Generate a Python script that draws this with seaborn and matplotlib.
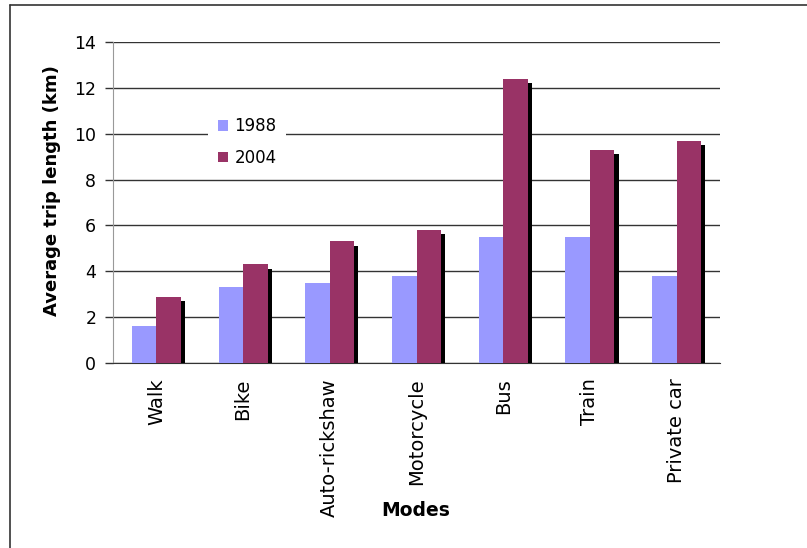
import pandas as pd
import numpy as np
import seaborn as sns
import matplotlib.pyplot as plt
import matplotlib.patheffects as pe
from matplotlib.lines import Line2D

# Données
modes = ['Walk', 'Bike', 'Auto-rickshaw', 'Motorcycle', 'Bus', 'Train', 'Private car']
trip_1988 = [1.6, 3.3, 3.5, 3.8, 5.5, 5.5, 3.8]
trip_2004 = [2.9, 4.3, 5.3, 5.8, 12.4, 9.3, 9.7]
years = ['1988', '2004']
couleurs = ['#9999FF', '#993366']

df = pd.DataFrame({
    'Mode': modes * 2,
    'Year': ['1988'] * len(modes) + ['2004'] * len(modes),
    'Length': trip_1988 + trip_2004,
})

sns.set_style('white')
plt.rcParams['font.family'] = ['DejaVu Sans']
plt.rcParams['text.color'] = 'black'
plt.rcParams['xtick.color'] = 'black'
plt.rcParams['ytick.color'] = 'black'

fig = plt.figure(figsize=(8.07, 5.48), dpi=100)
ax = fig.add_axes([113 / 807, 1 - 363 / 548, 607 / 807, 321 / 548])

sns.barplot(data=df, x='Mode', y='Length', hue='Year', order=modes,
            hue_order=years, palette=couleurs, width=0.565, gap=0,
            saturation=1, ax=ax, zorder=3)

# Ombre noire façon Excel
for bar in ax.patches:
    bar.set_edgecolor('none')
    bar.set_path_effects([pe.SimplePatchShadow(offset=(3, -3), shadow_rgbFace='black', alpha=1),
                          pe.Normal()])

ax.set_ylim(0, 14)
ax.set_yticks(np.arange(0, 15, 2))
ax.set_xlim(-0.5, len(modes) - 0.5)
ax.yaxis.grid(True, color='#333333', linewidth=1)
ax.set_axisbelow(True)

ax.set_xticks(range(len(modes)))
ax.set_xticklabels(modes, rotation=90, fontsize=14)
ax.set_xticks(np.arange(-0.5, len(modes)), minor=True)
ax.tick_params(axis='x', which='major', length=0, pad=11)
ax.tick_params(axis='x', which='minor', length=7, color='#888888', width=1, direction='out')
ax.tick_params(axis='y', length=6, color='#333333', width=1, labelsize=12.5, pad=6, left=True)

for s in ['top', 'right']:
    ax.spines[s].set_visible(False)
ax.spines['left'].set_color('#999999')
ax.spines['bottom'].set_color('#333333')
ax.set_xlabel('')
ax.set_ylabel('')

fig.text(52 / 807, 1 - 191 / 548, 'Average trip length (km)', rotation=90,
         ha='center', va='center', fontsize=13, fontweight='bold')
fig.text(416 / 807, 1 - 510 / 548, 'Modes', ha='center', va='center',
         fontsize=13.5, fontweight='bold')

handles, labels = ax.get_legend_handles_labels()
leg = ax.legend(handles, labels, loc='center', bbox_to_anchor=(247 / 807, 1 - 142 / 548),
                bbox_transform=fig.transFigure, frameon=True, fontsize=12,
                handlelength=0.6, handleheight=0.6, handletextpad=0.4,
                labelspacing=0.8, borderpad=0.6)
leg.get_frame().set_facecolor('white')
leg.get_frame().set_edgecolor('none')
leg.get_frame().set_alpha(1)
for h in leg.legend_handles:
    h.set_path_effects([])

# Cadre du graphique
fig.add_artist(Line2D([10 / 807, 1], [1 - 5 / 548, 1 - 5 / 548], color='#333333', linewidth=1.2))
fig.add_artist(Line2D([10 / 807, 10 / 807], [0, 1 - 5 / 548], color='#333333', linewidth=1.2))

fig.savefig('out.png', dpi=100)
